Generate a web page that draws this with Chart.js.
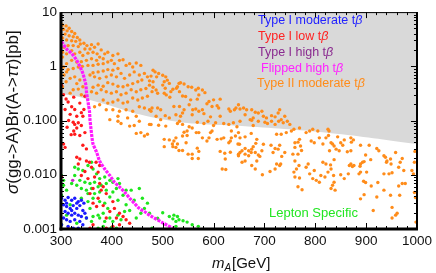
<!DOCTYPE html>
<html><head><meta charset="utf-8">
<script src="https://cdn.jsdelivr.net/npm/chart.js@4.4.1/dist/chart.umd.min.js"></script>
<style>html,body{margin:0;padding:0;background:#fff;}#wrap{width:436px;height:273px;position:relative;}</style>
</head><body><div id="wrap"><canvas id="c"></canvas></div>
<script>
// ---- axis ticks ----
const xTicks = [300,400,500,600,700,800,900,1000];
const xTickLabels = ['300','400','500','600','700','800','900','1000'];
const yTicks = [0.001,0.01,0.1,1,10];
const yTickLabels = ['0.001','0.010','0.100','1','10'];

// ---- legend / annotations ----
const legendLabels = ['Type I moderate t','Type I low t','Type I high t','Flipped high t','Type II moderate t'];
const legendColors = ['#2222ff','#ff2222','#8a2a8f','#ff22ff','#ff8c1a'];
const sectorLabel = 'Lepton Specific';

// ---- excluded (shaded) region lower boundary: [mA, sigma*BR] ----
const excludedBoundary = [[300,0.31],[330,0.28],[350,0.25],[396,0.19],[454,0.13],[538,0.092],[610,0.083],[649,0.080],[828,0.059],[1000,0.037]];

// ---- Type II moderate tan(beta) ----
const typeIIModerate = [
[303,5.8],[310,5.56],[316,5.05],[305,4.84],[312,4.51],[321,4.39],[327,4.04],[308,3.93],[316,3.66],[324,3.51],[332,3.41],[303,3.32],[311,3.05],[321,2.97],[329,2.89],[337,3.05],[338,2.58],[345,2.66],[351,2.41],[360,2.51],[366,2.25],[373,2.58],[357,2.09],[347,2.09],[334,2.31],[324,2.41],[314,2.41],[306,2.25],[303,1.82],[311,1.70],[321,1.95],[327,1.70],[337,1.82],[343,1.58],[353,1.75],[363,1.82],[371,1.70],[379,2.01],[386,1.70],[392,1.82],[402,1.58],[412,1.70],[383,1.38],[376,1.48],[370,1.29],[360,1.38],[350,1.29],[340,1.22],[331,1.20],[321,1.29],[311,1.12],[305,0.97],[314,0.87],[324,0.91],[334,0.97],[342,1.0],[353,1.04],[363,1.04],[373,1.09],[383,1.12],[392,1.20],[399,1.29],[405,1.12],[415,1.29],[422,1.32],[428,1.04],[435,1.12],[441,0.97],[448,1.15],[457,1.04],[412,0.91],[402,0.85],[392,0.87],[383,0.82],[373,0.79],[363,0.76],[357,0.69],[366,0.64],[376,0.60],[389,0.64],[399,0.69],[409,0.64],[418,0.74],[425,0.60],[435,0.69],[444,0.79],[454,0.69],[464,0.74],[470,0.64],[459,0.56],[451,0.52],[441,0.48],[431,0.45],[422,0.42],[412,0.43],[402,0.47],[392,0.50],[383,0.43],[373,0.45],[363,0.41],[360,0.34],[370,0.32],[379,0.37],[389,0.34],[399,0.32],[409,0.34],[418,0.30],[428,0.32],[438,0.37],[448,0.34],[457,0.37],[467,0.39],[474,0.45],[470,0.28],[460,0.26],[451,0.24],[441,0.26],[431,0.22],[422,0.21],[412,0.24],[402,0.22],[392,0.21],[383,0.24],[376,0.195],[366,0.18],[389,0.158],[402,0.158],[415,0.148],[428,0.158],[441,0.148],[454,0.18],[464,0.17],[474,0.158],[448,0.12],[431,0.112],[412,0.12],[396,0.104],[303,1.48],[306,0.69],[310,0.52],[303,0.42],[318,0.60],[311,0.79],[327,0.64],[337,0.56],[331,0.48],[324,0.37],[334,0.38],[343,0.42],[340,0.30],[318,0.32],
[412,0.097],[418,0.088],[435,0.079],[444,0.081],[454,0.097],[448,0.058],[457,0.060],[464,0.052],[470,0.056],[474,0.085],
[481,0.845],[485,0.79],[492,0.736],[488,0.64],[477,0.66],[500,0.686],[506,0.64],[509,0.556],[503,0.52],[513,0.484],[500,0.451],[505,0.393],[481,0.41],[487,0.366],[479,0.341],[490,0.318],[503,0.318],[507,0.297],[516,0.341],[514,0.269],[520,0.377],[527,0.393],[532,0.484],[535,0.498],[542,0.471],[529,0.42],[533,0.341],[539,0.284],[545,0.277],[550,0.42],[557,0.41],[565,0.366],[570,0.393],[578,0.366],[583,0.327],[571,0.297],[568,0.248],[555,0.241],[552,0.195],[559,0.158],[565,0.163],[578,0.158],[587,0.204],[591,0.224],[600,0.241],[613,0.248],[607,0.187],[597,0.182],[581,0.134],[594,0.117],[610,0.17],[613,0.12],[630,0.163],[633,0.148],[644,0.17],[649,0.195],[641,0.158],[522,0.182],[533,0.182],[539,0.138],[535,0.12],[526,0.128],[505,0.123],[496,0.158],[490,0.17],[479,0.17],[477,0.148],[487,0.12],[496,0.104],[513,0.112],[542,0.158],[558,0.128],[571,0.148],[481,0.52],[474,0.54],
[652,0.163],[659,0.17],[665,0.158],[675,0.158],[682,0.142],[688,0.138],[695,0.148],[678,0.112],[698,0.12],[704,0.112],[714,0.123],[721,0.117],[662,0.128],[672,0.104],[733,0.104],[727,0.138],[740,0.12],[730,0.158],
[477,0.0845],[492,0.082],[506,0.079],[529,0.088],[533,0.097],[539,0.085],[552,0.077],[558,0.073],[568,0.093],[581,0.088],[589,0.097],[600,0.081],[604,0.091],[620,0.088],[630,0.085],[639,0.091],[646,0.077],[635,0.064],[649,0.060],[643,0.052],[635,0.048],[633,0.042],[648,0.037],[630,0.039],[620,0.048],[607,0.045],[615,0.046],[597,0.064],[594,0.060],[591,0.048],[587,0.042],[578,0.048],[571,0.060],[566,0.060],[548,0.064],[542,0.061],[539,0.052],[548,0.053],[526,0.048],[522,0.042],[519,0.037],[529,0.037],[526,0.032],[520,0.033],[513,0.044],[503,0.045],[503,0.033],[532,0.028],[539,0.028],[546,0.039],[568,0.031],[571,0.027],[558,0.024],[550,0.024],[558,0.020],[570,0.020],[613,0.027],[622,0.025],[633,0.026],[649,0.024],[623,0.0195],[617,0.0128],[624,0.0125],[649,0.0225],
[652,0.097],[675,0.101],[688,0.097],[678,0.081],[701,0.093],[706,0.088],[714,0.097],[721,0.085],[728,0.097],[737,0.091],[745,0.097],[750,0.085],[724,0.056],[733,0.056],[743,0.060],[753,0.064],[758,0.069],[769,0.073],[782,0.060],[789,0.064],[795,0.069],[805,0.064],[825,0.069],[821,0.048],[808,0.048],[815,0.037],[798,0.039],[792,0.042],[769,0.045],[766,0.040],[760,0.039],[771,0.034],[773,0.028],[760,0.032],[756,0.024],[766,0.024],[760,0.018],[768,0.0148],[763,0.0128],[758,0.0112],[760,0.0091],[769,0.0087],[766,0.0060],[774,0.0053],[786,0.0158],[782,0.0138],[789,0.0104],[798,0.012],[795,0.0085],[802,0.0079],[811,0.0097],[808,0.0073],[815,0.017],[821,0.0158],[825,0.0112],[819,0.0091],[652,0.048],[662,0.050],[674,0.058],[685,0.045],[683,0.038],[678,0.033],[675,0.0297],[669,0.0277],[662,0.0305],[656,0.0277],[652,0.0258],[651,0.0366],[674,0.0258],[682,0.0258],[695,0.0277],[698,0.0366],[713,0.035],[688,0.0231],[691,0.0218],[717,0.0258],[721,0.0305],[727,0.0297],[730,0.035],[740,0.0258],[734,0.0218],[732,0.0158],[724,0.0158],[662,0.018],[675,0.0148],[682,0.0128],[685,0.018],[696,0.010],[711,0.0115],[721,0.0128],[730,0.0148],[656,0.017],[669,0.0225],[662,0.024],
[826,0.053],[844,0.050],[857,0.044],[870,0.048],[871,0.040],[875,0.044],[834,0.037],[837,0.034],[831,0.039],[850,0.039],[854,0.035],[828,0.0277],[841,0.0297],[847,0.0277],[863,0.0265],[870,0.0277],[889,0.035],[906,0.035],[921,0.0305],[925,0.0277],[899,0.0231],[909,0.019],[893,0.017],[889,0.0158],[888,0.0144],[896,0.0175],[889,0.0112],[901,0.0112],[886,0.0104],[876,0.0148],[873,0.0142],[867,0.0148],[870,0.0158],[837,0.019],[830,0.0152],[831,0.0128],[836,0.0097],[850,0.010],[857,0.0085],[865,0.0104],[837,0.0073],[834,0.0064],[831,0.0056],[839,0.0052],[935,0.0225],[938,0.021],[941,0.018],[948,0.0195],[940,0.017],[949,0.0158],[958,0.0258],[971,0.020],[967,0.017],[964,0.0138],[974,0.012],[990,0.012],[993,0.0104],[935,0.0104],[945,0.0104],[951,0.0109],[895,0.0076],[899,0.0072],[910,0.0062],[923,0.0072],[896,0.0043],[889,0.0036],[921,0.0039],[935,0.0052],[948,0.0042],[971,0.0069],[977,0.0069],[964,0.0062],[966,0.0042],[995,0.0047],[997,0.0038],[951,0.0025],[958,0.0018],[961,0.00195],[914,0.0022],[998,0.00134],[951,0.0016],[827,0.064],[996,0.027],[995,0.017]
];

// ---- Type I low tan(beta) ----
const typeILow = [
[301,0.45],[305,0.30],[314,0.22],[321,0.18],[308,0.16],[327,0.16],[337,0.21],[347,0.28],[340,0.14],[331,0.12],[318,0.13],[343,0.12],[310,0.25],[325,0.27],[315,0.10],[345,0.16],[320,0.055],[312,0.075],
[324,0.093],[327,0.085],[334,0.091],[340,0.081],[331,0.073],[325,0.064],[327,0.056],[337,0.053],[347,0.060],[305,0.037],[308,0.032],[343,0.035],[350,0.030],[331,0.021],[337,0.0195],[350,0.018],[334,0.0158],[356,0.017],[360,0.0138],[347,0.0115],[340,0.0097],[353,0.0085],[366,0.0091],[373,0.0112],[376,0.0069],[383,0.0060],[379,0.0052],[363,0.0056],[357,0.0045],[389,0.0045],[373,0.0037],[363,0.0030],[370,0.0026],[383,0.0027],[402,0.0032],[405,0.0024],[415,0.00195],[396,0.0021],[389,0.0016],[409,0.0016],[422,0.0017],[428,0.00148],[435,0.00128],[415,0.0012],[402,0.00112],[389,0.00104],[363,0.0012],[357,0.00104],[314,0.00104],[301,0.0091],[376,0.0148],[369,0.017]
];

// ---- Type I high tan(beta) ----
const typeIHigh = [[323,0.0079]];

// ---- Lepton specific ----
const leptonSpecific = [
[327,0.0138],[334,0.0128],[343,0.0120],[353,0.0148],[360,0.017],[363,0.0128],[370,0.0104],[327,0.0097],[337,0.0079],[347,0.0073],[357,0.0069],[366,0.0073],[376,0.0085],[386,0.0091],[396,0.0079],[402,0.0073],[412,0.0085],[415,0.0069],[409,0.0056],[402,0.0048],[396,0.0039],[389,0.0052],[376,0.0048],[366,0.0045],[360,0.0056],[350,0.0052],[340,0.0056],[331,0.0064],[321,0.0069],[311,0.0052],[305,0.0064],[301,0.0042],[363,0.0037],[353,0.0032],[376,0.0032],[386,0.0030],[392,0.0024],[383,0.00195],[373,0.0018],[363,0.0017],[376,0.0016],[386,0.00138],[396,0.0016],[402,0.00138],[412,0.0018],[418,0.00148],[425,0.0021],[428,0.0028],[435,0.0022],[438,0.0052],[454,0.0056],[444,0.0034],[460,0.0037],[412,0.0034],[422,0.0042],[428,0.0052],[448,0.0016],[457,0.00195],[464,0.0024],[470,0.0030],[409,0.00104],[399,0.00107],[383,0.00112],[373,0.00104],[360,0.00138],[350,0.0016],[357,0.0024],[353,0.0045],[340,0.0037],[379,0.0064],[389,0.0069],[373,0.0060],[305,0.0079],[301,0.0097],[318,0.0028],[311,0.0018],[301,0.0012],[321,0.00101],[331,0.00128],
[474,0.00195],[500,0.0020],[522,0.0018],[529,0.0017],[513,0.0017],[520,0.00154],[526,0.00138],[532,0.00148],[540,0.00142],[548,0.00134],[558,0.0012],[570,0.00112],[490,0.00158],[479,0.00104],[526,0.00112]
];

// ---- Type I moderate tan(beta) ----
const typeIModerate = [
[301,0.0037],[308,0.0034],[314,0.0038],[321,0.0034],[327,0.0037],[334,0.0032],[340,0.0034],[345,0.0030],[305,0.0028],[311,0.0026],[318,0.0024],[324,0.0027],[331,0.0024],[337,0.0027],[343,0.0022],[308,0.0021],[314,0.00195],[321,0.0018],[327,0.00195],[334,0.0018],[340,0.0017],[347,0.00195],[305,0.0016],[311,0.00148],[318,0.00138],[327,0.00148],[337,0.00138],[343,0.0012],[301,0.0012],[314,0.00112],[324,0.00104],[334,0.00104],[350,0.0016],[331,0.0030],[321,0.0022],[311,0.0030]
];

// ---- Flipped high tan(beta) ----
const flippedHigh = [
[301,2.85],[311,2.09],[321,1.72],[331,1.29],[337,1.0],[343,0.74],[347,0.54],[349,0.45],[350,0.34],[352,0.26],[354,0.195],[356,0.148],[357,0.104],[359,0.07],[361,0.048],[363,0.037],[370,0.026],[376,0.018],[386,0.0128],[396,0.0097],[405,0.0073],[415,0.006],[425,0.0048],[435,0.0037],[444,0.003],[454,0.0024],[464,0.0021],[474,0.0018],[500,0.0013],[522,0.00101]
];

const toXY = arr => arr.map(([x,y]) => ({x, y}));
const tickFont = {family:'"Liberation Sans", Arial, sans-serif', size:13.5};

function drawRich(ctx, parts, x, y, size, color) {
  let cx = x;
  for (const p of parts) {
    ctx.font = (p.italic ? 'italic ' : '') + size + 'px "Liberation Sans", Arial, sans-serif';
    ctx.fillStyle = color;
    ctx.fillText(p.t, cx, y);
    cx += ctx.measureText(p.t).width;
  }
}

const decoPlugin = {
  id: 'deco',
  afterDatasetsDraw(chart) {
    const {ctx, chartArea: a, scales: {x, y}} = chart;
    ctx.save();
    ctx.strokeStyle = '#000';
    ctx.lineWidth = 1;
    const seg = (x1,y1,x2,y2) => { ctx.beginPath(); ctx.moveTo(x1,y1); ctx.lineTo(x2,y2); ctx.stroke(); };
    for (let v = 300; v <= 1000; v += 20) {
      const px = Math.round(x.getPixelForValue(v)) + 0.5;
      const L = (v % 100 === 0) ? 6 : 3;
      seg(px, a.bottom, px, a.bottom - L);
      seg(px, a.top, px, a.top + L);
    }
    for (const d of [0.001, 0.01, 0.1, 1]) {
      for (let k = 1; k <= 9; k++) {
        const py = Math.round(y.getPixelForValue(k * d)) + 0.5;
        const L = k === 1 ? 6 : 3;
        seg(a.left, py, a.left + L, py);
        seg(a.right, py, a.right - L, py);
      }
    }
    // frame
    ctx.lineWidth = 1; seg(a.left, a.top + 0.5, a.right, a.top + 0.5);
    ctx.lineWidth = 2; seg(a.right, a.top, a.right, a.bottom);
    ctx.lineWidth = 3; seg(a.left, a.top, a.left, a.bottom + 1.5); seg(a.left - 1.5, a.bottom, a.right + 1, a.bottom);
    // legend texts
    ctx.textBaseline = 'middle';
    const lx = [258, 258, 258, 261, 257];
    const ly = [21, 37, 53, 69, 84];
    legendLabels.forEach((t, i) => drawRich(ctx, [{t}, {t:'β', italic:true}], lx[i], ly[i], 12.5, legendColors[i]));
    drawRich(ctx, [{t: sectorLabel}], 269, 213, 13, '#22e622');
    // axis titles
    ctx.textBaseline = 'alphabetic';
    drawRich(ctx, [{t:'m', italic:true}], 212, 268, 15, '#111');
    ctx.font = 'italic 10px "Liberation Sans", Arial, sans-serif';
    ctx.fillText('A', 224.5, 271);
    drawRich(ctx, [{t:'[GeV]'}], 232, 268, 15, '#111');
    ctx.translate(17.5, 194);
    ctx.rotate(-Math.PI / 2);
    drawRich(ctx, [{t:'σ', italic:true}, {t:'(gg->A)Br(A->'}, {t:'ττ', italic:true}, {t:')[pb]'}], 0, 0, 17, '#111');
    ctx.restore();
  }
};

new Chart(document.getElementById('c'), {
  type: 'scatter',
  data: {
    datasets: [
      {label:'Excluded', type:'line', data: toXY(excludedBoundary), fill:'end', backgroundColor:'#d9d9d9', borderWidth:0, pointRadius:0, tension:0.4, order:10},
      {label:'Type II moderate tβ', data: toXY(typeIIModerate), backgroundColor:'#ff8c1a', borderWidth:0, pointRadius:1.7, order:6},
      {label:'Lepton Specific', data: toXY(leptonSpecific), backgroundColor:'#1ee61e', borderWidth:0, pointRadius:1.7, order:5},
      {label:'Type I low tβ', data: toXY(typeILow), backgroundColor:'#ff1a1a', borderWidth:0, pointRadius:1.7, order:4},
      {label:'Type I high tβ', data: toXY(typeIHigh), backgroundColor:'#cc22cc', borderWidth:0, pointRadius:1.7, order:3},
      {label:'Type I moderate tβ', data: toXY(typeIModerate), backgroundColor:'#1a1aff', borderWidth:0, pointRadius:1.7, order:2},
      {label:'Flipped high tβ', type:'line', data: toXY(flippedHigh), showLine:true, fill:false, borderColor:'#ff1aff', borderWidth:3.2, borderDash:[3,1], pointRadius:0, tension:0.3, order:1}
    ]
  },
  options: {
    responsive: true, maintainAspectRatio: false, animation: false, devicePixelRatio: 1,
    layout: {padding: {top: 9, right: 16, left: 0, bottom: 0}, autoPadding: false},
    plugins: {legend: {display: false}, tooltip: {enabled: false}},
    scales: {
      x: {type:'linear', min:300, max:1000,
          afterBuildTicks: s => { s.ticks = xTicks.map(v => ({value: v})); },
          ticks: {font: tickFont, color:'#111', padding:4, maxRotation:0, autoSkip:false, callback: (v, i) => xTickLabels[i]},
          grid: {display:false, drawTicks:false}, border: {display:false},
          afterFit: s => { s.height = 44; }},
      y: {type:'logarithmic', min:0.001, max:10,
          afterBuildTicks: s => { s.ticks = yTicks.map(v => ({value: v})); },
          ticks: {font: tickFont, color:'#111', padding:4, autoSkip:false, callback: (v, i) => yTickLabels[i]},
          grid: {display:false, drawTicks:false}, border: {display:false},
          afterFit: s => { s.width = 61; }}
    }
  },
  plugins: [decoPlugin]
});
</script></body></html>
